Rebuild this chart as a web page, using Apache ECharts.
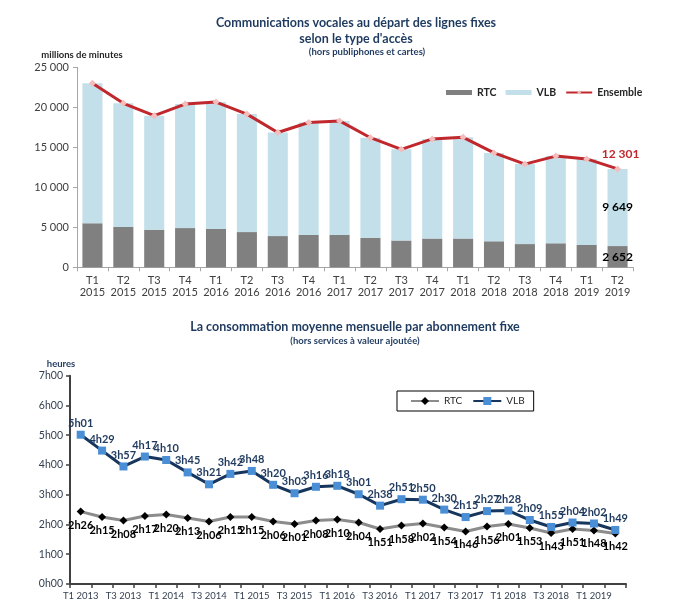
<!DOCTYPE html>
<html>
<head>
<meta charset="utf-8">
<script src="https://cdn.jsdelivr.net/npm/echarts@6/dist/echarts.min.js"></script>
<style>html,body{margin:0;padding:0;background:#fff}#c{width:678px;height:615px}</style>
</head>
<body>
<div id="c"></div>
<script>
// ---- Top chart data (millions de minutes)
var topCategories = ['T1\n2015','T2\n2015','T3\n2015','T4\n2015','T1\n2016','T2\n2016','T3\n2016','T4\n2016','T1\n2017','T2\n2017','T3\n2017','T4\n2017','T1\n2018','T2\n2018','T3\n2018','T4\n2018','T1\n2019','T2\n2019'];
var rtcMinutes = [5500,5050,4700,4900,4800,4400,3900,4050,4050,3700,3350,3600,3600,3250,2900,3000,2800,2652];
var vlbMinutes = [17500,15450,14250,15500,15850,14750,12950,14050,14250,12500,11400,12450,12650,11050,10000,10900,10750,9649];
var ensembleMinutes = [23000,20500,18950,20400,20650,19150,16850,18100,18300,16200,14750,16050,16250,14300,12900,13900,13550,12301];

// ---- Bottom chart data (minutes per month)
var bottomCategories = ['T1 2013','T2 2013','T3 2013','T4 2013','T1 2014','T2 2014','T3 2014','T4 2014','T1 2015','T2 2015','T3 2015','T4 2015','T1 2016','T2 2016','T3 2016','T4 2016','T1 2017','T2 2017','T3 2017','T4 2017','T1 2018','T2 2018','T3 2018','T4 2018','T1 2019','T2 2019'];
var rtcConso = [146,135,128,137,140,133,126,135,135,126,121,128,130,124,111,118,122,114,106,116,121,113,103,111,108,102];
var vlbConso = [301,269,237,257,250,225,201,222,228,200,183,196,198,181,158,171,170,150,135,147,148,129,115,124,122,109];

var FONT = 'Lato, "Open Sans", sans-serif';
var NAVY = '#1F3A5F';
var ZW = '\u200b';

function fmtThousands(v){ return String(v).replace(/\B(?=(\d{3})+(?!\d))/g, ' '); }
function fmtHM(v){ var h = Math.floor(v/60), m = Math.round(v - h*60); return h + 'h' + (m<10?'0':'') + m; }
function lastLabel(arr, lbl){
  return arr.map(function(v,i){ return i===arr.length-1 ? {value:v, label:lbl} : v; });
}
function txt(x, y, s, font, fill){
  return {type:'text', x:x, y:y, style:{text:s, font:font, fill:fill, align:'center', verticalAlign:'middle', textAlign:'center', textVerticalAlign:'middle'}};
}

var chart = echarts.init(document.getElementById('c'), null, {renderer:'canvas'});
var option = {
  backgroundColor:'#fff',
  textStyle:{fontFamily:FONT},
  animation:false,
  graphic:[
    txt(356, 23, 'Communications vocales au départ des lignes fixes', 'bold 12.5px '+FONT, NAVY),
    txt(356, 38.5, "selon le type d'accès", 'bold 12.5px '+FONT, NAVY),
    txt(367, 52, '(hors publiphones et cartes)', 'bold 9.5px '+FONT, NAVY),
    txt(82, 55, 'millions de minutes', 'bold 9.5px '+FONT, '#262626'),
    txt(355, 327, 'La consommation moyenne mensuelle par abonnement fixe', 'bold 12.5px '+FONT, NAVY),
    txt(355, 341, '(hors services à valeur ajoutée)', 'bold 9.5px '+FONT, NAVY),
    txt(61, 364, 'heures', 'bold 9.5px '+FONT, NAVY)
  ],
  legend:[
    {
      left:441, top:82, itemWidth:26, itemHeight:5, itemGap:9,
      textStyle:{fontFamily:FONT, fontSize:10.5, fontWeight:'bold', color:'#262626'},
      data:[{name:'RTC', icon:'rect'},{name:'VLB', icon:'rect'},{name:'Ensemble'}]
    },
    {
      left:397, top:391, itemWidth:28, itemHeight:10, itemGap:10,
      padding:[5,9,5,13], borderColor:'#000', borderWidth:1,
      textStyle:{fontFamily:FONT, fontSize:10, color:'#262626'},
      data:['RTC'+ZW,'VLB'+ZW]
    }
  ],
  grid:[
    {left:77, right:45, top:67.3, bottom:347.7, containLabel:false},
    {left:70, right:52, top:375.7, bottom:31, containLabel:false}
  ],
  xAxis:[
    {
      type:'category', gridIndex:0, data:topCategories, boundaryGap:true,
      axisLine:{lineStyle:{color:'#A6A6A6', width:1}},
      axisTick:{show:true, alignWithLabel:false, length:4, lineStyle:{color:'#A6A6A6'}},
      axisLabel:{color:'#404040', fontSize:11, lineHeight:12, margin:7, interval:0, fontFamily:FONT}
    },
    {
      type:'category', gridIndex:1, data:bottomCategories, boundaryGap:true,
      axisLine:{lineStyle:{color:'#404040', width:2}},
      axisTick:{show:true, interval:0, length:4, lineStyle:{color:'#404040', width:1.5}},
      axisLabel:{color:'#333F50', fontSize:9.5, margin:7, interval:1, fontFamily:FONT}
    }
  ],
  yAxis:[
    {
      type:'value', gridIndex:0, min:0, max:25000, interval:5000,
      axisLine:{show:true, lineStyle:{color:'#A6A6A6', width:1}},
      axisTick:{show:true, length:4, lineStyle:{color:'#A6A6A6'}},
      splitLine:{show:false},
      axisLabel:{color:'#404040', fontSize:11, margin:8, formatter:function(v){return fmtThousands(v);}, fontFamily:FONT}
    },
    {
      type:'value', gridIndex:1, min:0, max:420, interval:60,
      axisLine:{show:true, lineStyle:{color:'#404040', width:2}},
      axisTick:{show:true, length:4, lineStyle:{color:'#404040', width:1.5}},
      splitLine:{show:false},
      axisLabel:{color:'#333F50', fontSize:10.5, margin:7, formatter:function(v){return fmtHM(v);}, fontFamily:FONT}
    }
  ],
  series:[
    {
      name:'RTC', type:'bar', stack:'tot', xAxisIndex:0, yAxisIndex:0, barWidth:'65%',
      itemStyle:{color:'#808080'},
      data:lastLabel(rtcMinutes, {show:true, position:'inside', color:'#000', fontWeight:'bold', fontSize:12, formatter:function(p){return fmtThousands(p.value);}})
    },
    {
      name:'VLB', type:'bar', stack:'tot', xAxisIndex:0, yAxisIndex:0, barWidth:'65%',
      itemStyle:{color:'#C3E0EA'},
      data:lastLabel(vlbMinutes, {show:true, position:'inside', color:'#000', fontWeight:'bold', fontSize:12, formatter:function(p){return fmtThousands(p.value);}})
    },
    {
      name:'Ensemble', type:'line', xAxisIndex:0, yAxisIndex:0,
      symbol:'diamond', symbolSize:7, z:5,
      lineStyle:{color:'#C0282D', width:3},
      itemStyle:{color:'#F4BDBD', borderWidth:0},
      data:lastLabel(ensembleMinutes, {show:true, position:'top', distance:5, offset:[3,0], color:'#C0282D', fontWeight:'bold', fontSize:12, formatter:function(p){return fmtThousands(p.value);}})
    },
    {
      name:'RTC'+ZW, type:'line', xAxisIndex:1, yAxisIndex:1,
      symbol:'diamond', symbolSize:8,
      lineStyle:{color:'#8C8C8C', width:3},
      itemStyle:{color:'#000'},
      label:{show:true, position:'bottom', distance:4, color:'#000', fontWeight:'bold', fontSize:11, formatter:function(p){return fmtHM(p.value);}},
      data:rtcConso
    },
    {
      name:'VLB'+ZW, type:'line', xAxisIndex:1, yAxisIndex:1,
      symbol:'rect', symbolSize:8,
      lineStyle:{color:'#17365D', width:3},
      itemStyle:{color:'#4A8ED6'},
      label:{show:true, position:'top', distance:2, color:'#1F3A5F', fontWeight:'bold', fontSize:11, formatter:function(p){return fmtHM(p.value);}},
      data:vlbConso
    }
  ]
};
chart.setOption(option);
</script>
</body>
</html>
